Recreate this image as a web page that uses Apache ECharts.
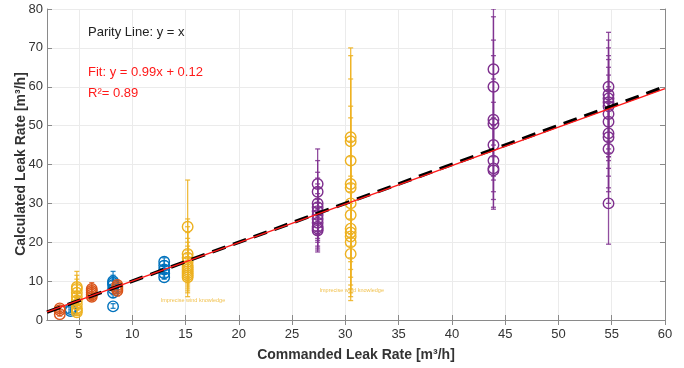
<!DOCTYPE html>
<html>
<head>
<meta charset="utf-8">
<script src="https://cdn.jsdelivr.net/npm/echarts@6/dist/echarts.min.js"></script>
<style>
  html, body { margin: 0; padding: 0; background: #fff; }
  #chart { width: 684px; height: 368px; }
</style>
</head>
<body>
<div id="chart"></div>
<script>
// each point: [commanded, calculated, lower bound, upper bound]
const bluePts = [
  [4.2, 2.3, 1.9, 2.8], [4.2, 2.8, 2.3, 3.3],
  [8.2, 3.5, 3.0, 4.2], [8.2, 7.0, 5.8, 8.5], [8.2, 8.0, 6.5, 10.0],
  [8.2, 9.0, 7.5, 12.5], [8.2, 9.5, 8.0, 11.0], [8.2, 10.0, 8.5, 11.5],
  [13.0, 11.0, 10.5, 12.0], [13.0, 12.0, 11.0, 13.2], [13.0, 13.0, 12.0, 14.0],
  [13.0, 14.0, 13.0, 15.2], [13.0, 15.0, 14.0, 16.0]
];
const orangePts = [
  [3.2, 1.5, 1.0, 2.2], [3.2, 2.5, 1.8, 3.2], [3.2, 3.0, 2.3, 3.6],
  [6.2, 6.0, 5.0, 7.2], [6.2, 6.5, 5.5, 8.0], [6.2, 7.0, 5.8, 8.5],
  [6.2, 7.5, 6.2, 9.0], [6.2, 8.0, 6.8, 9.6],
  [8.6, 7.5, 6.2, 9.0], [8.6, 8.0, 6.8, 9.3], [8.6, 8.5, 7.2, 9.8], [8.6, 9.0, 7.8, 10.2]
];
const yellowPts = [
  [4.8, 2.0, 1.2, 3.0], [4.8, 2.5, 1.5, 4.0], [4.8, 3.0, 1.8, 5.0], [4.8, 4.0, 2.5, 6.0],
  [4.8, 5.0, 3.0, 7.5], [4.8, 6.0, 4.0, 9.0], [4.8, 7.0, 4.5, 10.5], [4.8, 8.0, 5.0, 11.5],
  [4.8, 8.5, 5.5, 12.5],
  [15.2, 11.0, 6.0, 15.0], [15.2, 11.5, 7.0, 16.0], [15.2, 12.0, 7.5, 17.0], [15.2, 12.5, 8.0, 18.0],
  [15.2, 13.0, 8.5, 19.0], [15.2, 13.5, 9.0, 20.0], [15.2, 14.0, 9.5, 21.0], [15.2, 15.0, 10.0, 22.5],
  [15.2, 16.0, 10.5, 24.0], [15.2, 17.0, 11.0, 26.0], [15.2, 24.0, 15.0, 36.0],
  [30.5, 17.0, 5.0, 26.0], [30.5, 20.0, 6.0, 30.0], [30.5, 21.5, 7.0, 33.0], [30.5, 22.5, 8.0, 35.0],
  [30.5, 23.5, 9.0, 37.0], [30.5, 27.0, 11.0, 42.0], [30.5, 30.0, 13.0, 46.0], [30.5, 34.0, 15.0, 52.0],
  [30.5, 35.0, 16.0, 55.0], [30.5, 41.0, 19.0, 62.0], [30.5, 46.0, 21.0, 68.0], [30.5, 47.0, 22.0, 70.0]
];
const purplePts = [
  [27.4, 23.0, 17.5, 28.0], [27.4, 23.5, 18.0, 29.0], [27.4, 24.0, 18.5, 30.0], [27.4, 25.0, 19.0, 31.0],
  [27.4, 26.0, 20.0, 32.5], [27.4, 27.0, 20.5, 34.0], [27.4, 28.0, 21.0, 35.0], [27.4, 29.0, 22.0, 36.5],
  [27.4, 30.0, 23.0, 38.0], [27.4, 33.0, 25.0, 41.0], [27.4, 35.0, 26.0, 44.0],
  [43.9, 38.5, 28.5, 50.0], [43.9, 39.0, 29.0, 52.0], [43.9, 41.0, 31.0, 56.0], [43.9, 45.0, 33.0, 62.0],
  [43.9, 50.5, 36.0, 68.0], [43.9, 51.5, 37.0, 72.0], [43.9, 60.0, 42.0, 78.0], [43.9, 64.5, 45.0, 80.0],
  [54.7, 30.0, 19.5, 42.0], [54.7, 44.0, 30.0, 56.0], [54.7, 47.0, 33.0, 59.0], [54.7, 48.0, 34.0, 60.0],
  [54.7, 51.0, 37.0, 63.0], [54.7, 53.0, 39.0, 65.0], [54.7, 55.0, 41.0, 67.0], [54.7, 56.0, 42.0, 68.0],
  [54.7, 57.0, 43.0, 70.0], [54.7, 58.0, 44.0, 72.0], [54.7, 60.0, 46.0, 74.0]
];
const parityLine = [[2, 2], [60, 60]];
const fitLine = [[2, 2.1], [60, 59.52]];
const noteText = 'Imprecise wind knowledge';
const notePts = [[15.7, 5.1], [30.6, 7.7]];
const xTicks = [5, 10, 15, 20, 25, 30, 35, 40, 45, 50, 55, 60];
const yTicks = [0, 10, 20, 30, 40, 50, 60, 70, 80];

const COLORS = {
  blue: '#0072BD',
  orange: '#D95319',
  yellow: '#EDB120',
  purple: '#7E2F8E'
};
const FONT = '"Liberation Sans", Arial, sans-serif';
const AXIS_COLOR = '#8a8a8a';
const LABEL_COLOR = '#333';

const errorSeries = (pts, color) => ({
  type: 'custom',
  data: pts,
  clip: true,
  silent: true,
  z: 2,
  encode: { x: 0, y: 1 },
  renderItem: (params, api) => {
    const x = api.value(0);
    const top = api.coord([x, api.value(3)]);
    const bot = api.coord([x, api.value(2)]);
    const w = 2.5;
    const st = { stroke: color, lineWidth: 1.3, opacity: 0.85 };
    return {
      type: 'group',
      children: [
        { type: 'line', shape: { x1: top[0], y1: top[1], x2: bot[0], y2: bot[1] }, style: st },
        { type: 'line', shape: { x1: top[0] - w, y1: top[1], x2: top[0] + w, y2: top[1] }, style: st },
        { type: 'line', shape: { x1: bot[0] - w, y1: bot[1], x2: bot[0] + w, y2: bot[1] }, style: st }
      ]
    };
  }
});

const markerSeries = (pts, color) => ({
  type: 'scatter',
  data: pts.map(p => [p[0], p[1]]),
  symbol: 'circle',
  symbolSize: 10.5,
  silent: true,
  z: 3,
  itemStyle: { color: 'rgba(255,255,255,0)', borderColor: color, borderWidth: 1.4, opacity: 1 }
});

const hiddenAxis = {
  axisLine: { show: true, lineStyle: { color: AXIS_COLOR, width: 1 } },
  axisTick: { show: true, inside: true, length: 5, lineStyle: { color: AXIS_COLOR } },
  axisLabel: { show: false },
  splitLine: { show: false }
};

const chart = echarts.init(document.getElementById('chart'), null, { renderer: 'canvas' });

chart.setOption({
  animation: false,
  backgroundColor: '#fff',
  grid: { left: 47, right: 19, top: 9, bottom: 48, containLabel: false },
  xAxis: [{
    type: 'value',
    min: 2,
    max: 60,
    name: 'Commanded Leak Rate [m³/h]',
    nameLocation: 'middle',
    nameGap: 28,
    nameTextStyle: { fontFamily: FONT, fontSize: 14, fontWeight: 'bold', color: LABEL_COLOR },
    axisLine: { show: true, lineStyle: { color: AXIS_COLOR, width: 1 } },
    axisTick: { show: true, inside: true, length: 5, customValues: xTicks, lineStyle: { color: AXIS_COLOR } },
    axisLabel: { customValues: xTicks, fontFamily: FONT, fontSize: 13, color: LABEL_COLOR, margin: 8 },
    splitLine: { show: true, lineStyle: { color: '#ebebeb', width: 1 } }
  }, Object.assign({
    type: 'value', min: 2, max: 60, position: 'top'
  }, hiddenAxis, {
    axisTick: { show: true, inside: true, length: 5, customValues: xTicks, lineStyle: { color: AXIS_COLOR } }
  })],
  yAxis: [{
    type: 'value',
    min: 0,
    max: 80,
    interval: 10,
    axisLine: { show: true, lineStyle: { color: AXIS_COLOR, width: 1 } },
    axisTick: { show: true, inside: true, length: 5, customValues: yTicks, lineStyle: { color: AXIS_COLOR } },
    axisLabel: { customValues: yTicks, fontFamily: FONT, fontSize: 13, color: LABEL_COLOR, margin: 4 },
    splitLine: { show: true, lineStyle: { color: '#ebebeb', width: 1 } }
  }, Object.assign({
    type: 'value', min: 0, max: 80, interval: 10, position: 'right'
  }, hiddenAxis)],
  graphic: [{
    // y axis title, placed next to the tick labels like the original
    type: 'text',
    x: 21,
    y: 164,
    z: 100,
    rotation: Math.PI / 2,
    style: {
      text: 'Calculated Leak Rate [m³/h]',
      font: 'bold 14px ' + FONT,
      fill: LABEL_COLOR,
      align: 'center',
      verticalAlign: 'middle'
    }
  }, {
    type: 'text',
    left: 88,
    top: 26,
    z: 100,
    style: { text: 'Parity Line: y = x', font: '13px ' + FONT, fill: '#222' }
  }, {
    type: 'text',
    left: 88,
    top: 66,
    z: 100,
    style: { text: 'Fit: y = 0.99x + 0.12', font: '13px ' + FONT, fill: '#ff1a1a' }
  }, {
    type: 'text',
    left: 88,
    top: 87,
    z: 100,
    style: { text: 'R²= 0.89', font: '13px ' + FONT, fill: '#ff1a1a' }
  }],
  series: [
    errorSeries(bluePts, COLORS.blue),
    errorSeries(orangePts, COLORS.orange),
    errorSeries(yellowPts, COLORS.yellow),
    errorSeries(purplePts, COLORS.purple),
    markerSeries(bluePts, COLORS.blue),
    markerSeries(orangePts, COLORS.orange),
    markerSeries(yellowPts, COLORS.yellow),
    markerSeries(purplePts, COLORS.purple),
    {
      type: 'line',
      data: parityLine,
      symbol: 'none',
      silent: true,
      z: 4,
      lineStyle: { color: '#000', width: 3.5, type: [14, 8] }
    },
    {
      type: 'line',
      data: fitLine,
      symbol: 'none',
      silent: true,
      z: 5,
      lineStyle: { color: '#ff1a1a', width: 1.5 }
    },
    {
      type: 'scatter',
      data: notePts,
      symbolSize: 0,
      silent: true,
      z: 6,
      label: {
        show: true,
        position: 'inside',
        formatter: noteText,
        fontFamily: FONT,
        fontSize: 5.5,
        color: COLORS.yellow
      }
    }
  ]
});
</script>
</body>
</html>
